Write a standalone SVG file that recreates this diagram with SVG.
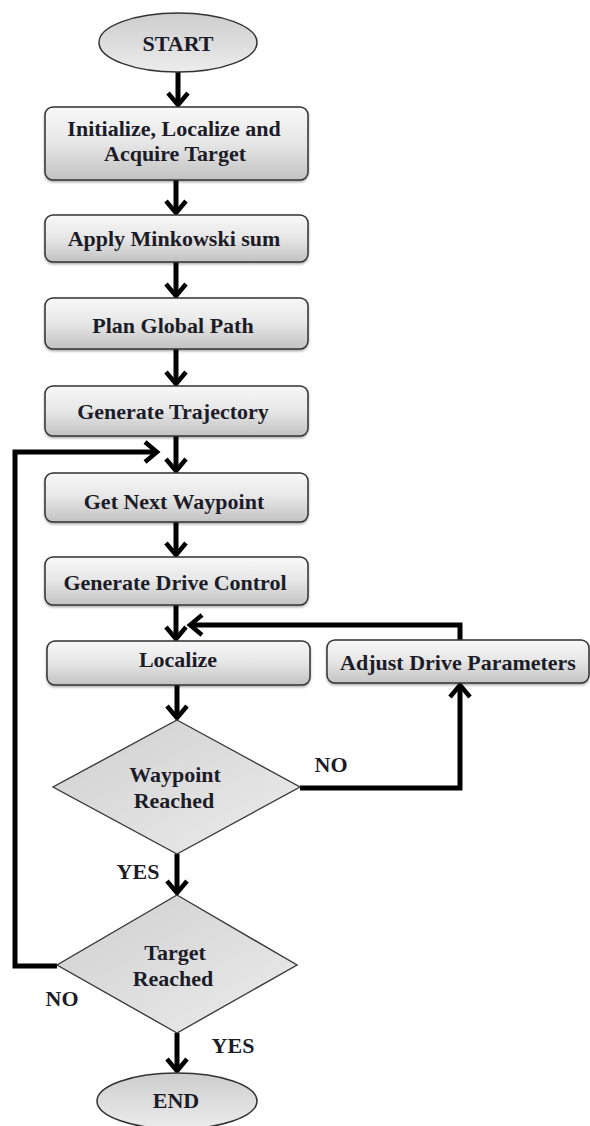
<svg xmlns="http://www.w3.org/2000/svg" width="590" height="1126" viewBox="0 0 590 1126">
<style>
.box{fill:url(#boxGrad);stroke:#333;stroke-width:1.5;filter:url(#sh)}
.dia{fill:url(#diaGrad);stroke:#3a3a3a;stroke-width:1.4}
.ell{fill:url(#ellGrad);stroke:#333;stroke-width:1.5}
.t{font-family:"Liberation Serif","Times New Roman",serif;font-weight:bold;font-size:22px;fill:#1c1c28;text-anchor:middle}
.c{fill:none;stroke:#000;stroke-width:5;stroke-linejoin:miter}
</style>
<defs>
<linearGradient id="boxGrad" x1="0" y1="0" x2="0" y2="1">
<stop offset="0" stop-color="#f8f8f8"/>
<stop offset="0.5" stop-color="#e6e6e6"/>
<stop offset="1" stop-color="#c2c2c2"/>
</linearGradient>
<linearGradient id="diaGrad" x1="0" y1="0" x2="1" y2="1">
<stop offset="0" stop-color="#cfcfcf"/>
<stop offset="1" stop-color="#ececec"/>
</linearGradient>
<linearGradient id="ellGrad" x1="0" y1="0" x2="0" y2="1">
<stop offset="0" stop-color="#cdcdcd"/>
<stop offset="1" stop-color="#ececec"/>
</linearGradient>
<filter id="sh" x="-5%" y="-10%" width="110%" height="130%">
<feDropShadow dx="0" dy="1.5" stdDeviation="1.2" flood-color="#000" flood-opacity="0.35"/>
</filter>
<marker id="ah" markerUnits="userSpaceOnUse" markerWidth="30" markerHeight="30" viewBox="-2 -2 30 30" refX="14" refY="10" orient="auto">
<path d="M2,0 L14,10 L2,20" fill="none" stroke="#000" stroke-width="4.5" stroke-linejoin="miter"/>
</marker>
</defs>
<rect width="590" height="1126" fill="#fff"/>

<g id="connectors">
<line class="c" x1="178" y1="72" x2="178" y2="105" marker-end="url(#ah)"/>
<line class="c" x1="176" y1="180" x2="176" y2="213" marker-end="url(#ah)"/>
<line class="c" x1="176" y1="262" x2="176" y2="296" marker-end="url(#ah)"/>
<line class="c" x1="176" y1="349" x2="176" y2="384" marker-end="url(#ah)"/>
<line class="c" x1="176" y1="436" x2="176" y2="471" marker-end="url(#ah)"/>
<line class="c" x1="176" y1="522" x2="176" y2="555" marker-end="url(#ah)"/>
<line class="c" x1="176" y1="605" x2="176" y2="639" marker-end="url(#ah)"/>
<line class="c" x1="177" y1="685" x2="177" y2="718" marker-end="url(#ah)"/>
<line class="c" x1="177" y1="854" x2="177" y2="893" marker-end="url(#ah)"/>
<line class="c" x1="177" y1="1033" x2="177" y2="1071" marker-end="url(#ah)"/>
<polyline class="c" points="300,788 460,788 460,685" marker-end="url(#ah)"/>
<polyline class="c" points="460,640 460,625 190,625" marker-end="url(#ah)"/>
<polyline class="c" points="57,966 15,966 15,452 157,452" marker-end="url(#ah)"/>
</g>

<g id="start">
<ellipse class="ell" cx="178" cy="42.5" rx="79" ry="29.5"/>
<text class="t" x="178" y="50.5">START</text>
</g>
<g id="init">
<rect class="box" x="45" y="107" width="263" height="73" rx="8"/>
<text class="t" x="174" y="135.5">Initialize, Localize and</text>
<text class="t" x="175" y="160.5">Acquire Target</text>
</g>
<g id="minkowski">
<rect class="box" x="45" y="215" width="263" height="47" rx="8"/>
<text class="t" x="174" y="245.5">Apply Minkowski sum</text>
</g>
<g id="plan">
<rect class="box" x="45" y="298" width="263" height="51" rx="8"/>
<text class="t" x="173" y="332.5">Plan Global Path</text>
</g>
<g id="trajectory">
<rect class="box" x="45" y="386" width="263" height="50" rx="8"/>
<text class="t" x="173" y="419">Generate Trajectory</text>
</g>
<g id="waypoint">
<rect class="box" x="45" y="473" width="263" height="49" rx="8"/>
<text class="t" x="174" y="508.5">Get Next Waypoint</text>
</g>
<g id="drive">
<rect class="box" x="45" y="557" width="263" height="48" rx="8"/>
<text class="t" x="175" y="589.5">Generate Drive Control</text>
</g>
<g id="localize">
<rect class="box" x="47" y="641" width="263" height="44" rx="8"/>
<text class="t" x="178" y="666.5">Localize</text>
</g>
<g id="adjust">
<rect class="box" x="327" y="640" width="262" height="43" rx="8"/>
<text class="t" x="458" y="670">Adjust Drive Parameters</text>
</g>
<g id="waypoint-reached">
<polygon class="dia" points="177,720 300,787 177,854 53,787"/>
<text class="t" x="175" y="781.5">Waypoint</text>
<text class="t" x="174" y="807.5">Reached</text>
</g>
<g id="target-reached">
<polygon class="dia" points="177,895 297,965 177,1033 57,965"/>
<text class="t" x="175" y="960">Target</text>
<text class="t" x="173" y="986">Reached</text>
</g>
<g id="end">
<ellipse class="ell" cx="177" cy="1101" rx="80" ry="28"/>
<text class="t" x="176" y="1108">END</text>
</g>
<g id="labels">
<text class="t" x="331" y="771.5">NO</text>
<text class="t" x="138" y="879">YES</text>
<text class="t" x="62" y="1006">NO</text>
<text class="t" x="233" y="1052.5">YES</text>
</g>
</svg>
